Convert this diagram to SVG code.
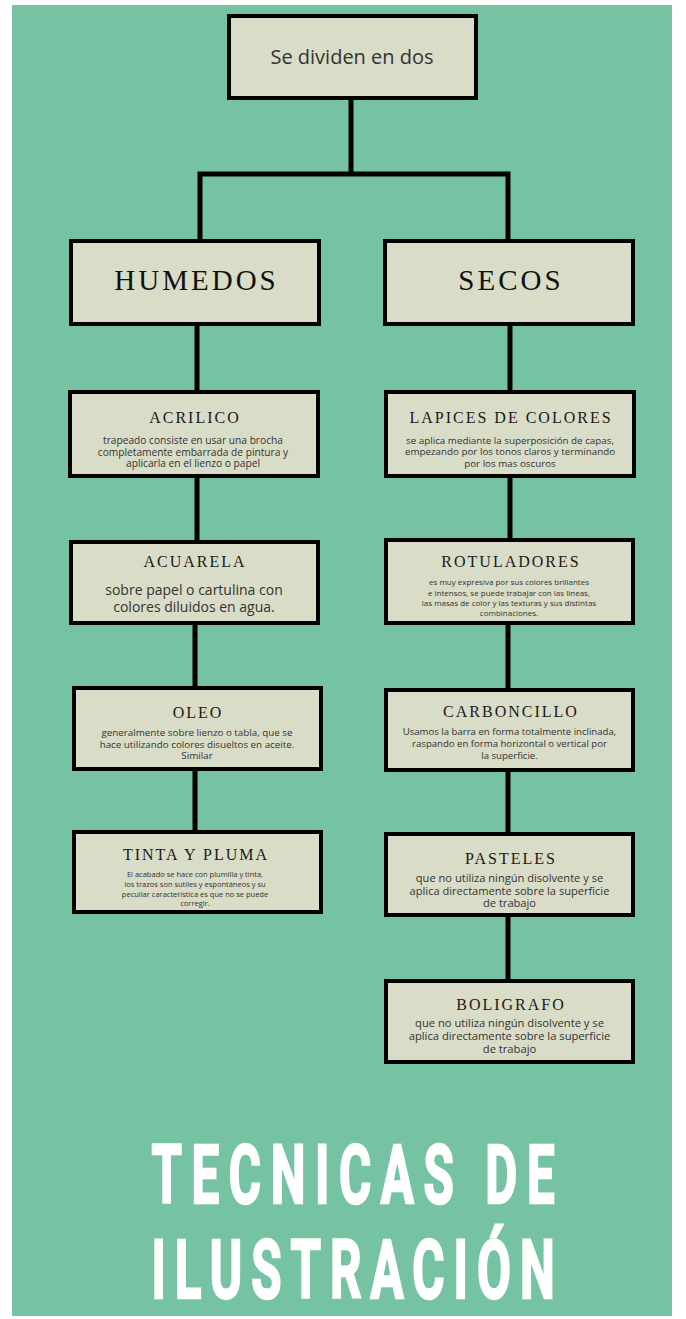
<svg xmlns="http://www.w3.org/2000/svg" width="686" height="1319" viewBox="0 0 686 1319">
<style>
.box{fill:#d9dcc6;stroke:#000;stroke-width:4}
.conn{stroke:#000;stroke-width:5;fill:none;stroke-linecap:butt}
.ttl{font-family:"Liberation Serif","Times New Roman",serif;font-size:16px;letter-spacing:2px;fill:#1a1a1a;text-anchor:middle}
.big{font-family:"Liberation Serif","Times New Roman",serif;font-size:29px;letter-spacing:3px;fill:#111;text-anchor:middle}
.d{font-family:"Open Sans","Liberation Sans",Arial,sans-serif;fill:#333;text-anchor:middle}
.head{font-family:Roboto,"Liberation Sans",Arial,sans-serif;font-weight:700;font-size:82px;fill:#fff;stroke:#fff;stroke-width:2.5;text-anchor:middle}
</style>
<rect x="0" y="0" width="686" height="1319" fill="#fff"/>
<rect x="12" y="5" width="660" height="1311" fill="#75c3a2"/>
<g id="connectors">
<path class="conn" d="M351 98 V174 M200 174 H508 M200 171.5 V240 M508 171.5 V240"/>
<path class="conn" d="M197 324 V392 M197 477 V541 M195 623 V687 M195 769 V831"/>
<path class="conn" d="M510 324 V392 M510 477 V539 M508 623 V689 M508 770 V833 M508 915 V980"/>
</g>
<g id="root">
<rect class="box" x="229" y="16" width="247" height="82"/>
<text x="352" y="64" font-family="Open Sans,Liberation Sans,sans-serif" font-size="20" fill="#333" text-anchor="middle">Se dividen en dos</text>
</g>
<g id="humedos">
<rect class="box" x="71" y="241" width="248" height="83"/>
<text class="big" x="196.5" y="290">HUMEDOS</text>
</g>
<g id="secos">
<rect class="box" x="385" y="241" width="248" height="83"/>
<text class="big" x="511" y="290">SECOS</text>
</g>
<g id="acrilico">
<rect class="box" x="70" y="392" width="248" height="84"/>
<text class="ttl" x="195" y="423">ACRILICO</text>
<text class="d" font-size="10.2"><tspan x="193" y="444">trapeado consiste en usar una brocha</tspan><tspan x="193" y="455.5">completamente embarrada de pintura y</tspan><tspan x="193" y="467">aplicarla en el lienzo o papel</tspan></text>
</g>
<g id="lapices">
<rect class="box" x="386" y="392" width="248" height="84"/>
<text class="ttl" x="511" y="423">LAPICES DE COLORES</text>
<text class="d" font-size="9.8"><tspan x="510" y="443.5">se aplica mediante la superposición de capas,</tspan><tspan x="510" y="455">empezando por los tonos claros y terminando</tspan><tspan x="510" y="466.5">por los mas oscuros</tspan></text>
</g>
<g id="acuarela">
<rect class="box" x="71" y="542" width="247" height="81"/>
<text class="ttl" x="195" y="567">ACUARELA</text>
<text class="d" font-size="14"><tspan x="194" y="595">sobre papel o cartulina con</tspan><tspan x="194" y="611.5">colores diluidos en agua.</tspan></text>
</g>
<g id="rotuladores">
<rect class="box" x="386" y="540" width="247" height="83"/>
<text class="ttl" x="511" y="567">ROTULADORES</text>
<text class="d" font-size="8"><tspan x="509" y="585">es muy expresiva por sus colores brillantes</tspan><tspan x="509" y="595.5">e intensos, se puede trabajar con las lineas,</tspan><tspan x="509" y="605.5">las masas de color y las texturas y sus distintas</tspan><tspan x="509" y="616">combinaciones.</tspan></text>
</g>
<g id="oleo">
<rect class="box" x="74" y="688" width="247" height="81"/>
<text class="ttl" x="198" y="718">OLEO</text>
<text class="d" font-size="9.8"><tspan x="197" y="736">generalmente sobre lienzo o tabla, que se</tspan><tspan x="197" y="747.5">hace utilizando colores disueltos en aceite.</tspan><tspan x="197" y="759">Similar</tspan></text>
</g>
<g id="carboncillo">
<rect class="box" x="386" y="690" width="247" height="80"/>
<text class="ttl" x="511" y="717">CARBONCILLO</text>
<text class="d" font-size="9.6"><tspan x="509.5" y="735">Usamos la barra en forma totalmente inclinada,</tspan><tspan x="509.5" y="747">raspando en forma horizontal o vertical por</tspan><tspan x="509.5" y="758.5">la superficie.</tspan></text>
</g>
<g id="tinta">
<rect class="box" x="74" y="832" width="247" height="80"/>
<text class="ttl" x="196" y="860">TINTA Y PLUMA</text>
<text class="d" font-size="7.5"><tspan x="195" y="877">El acabado se hace con plumilla y tinta,</tspan><tspan x="195" y="887">los trazos son sutiles y espontáneos y su</tspan><tspan x="195" y="896.5">peculiar característica es que no se puede</tspan><tspan x="195" y="906">corregir.</tspan></text>
</g>
<g id="pasteles">
<rect class="box" x="386" y="834" width="247" height="81"/>
<text class="ttl" x="511" y="864">PASTELES</text>
<text class="d" font-size="11.1"><tspan x="509.5" y="881.5">que no utiliza ningún disolvente y se</tspan><tspan x="509.5" y="894.5">aplica directamente sobre la superficie</tspan><tspan x="509.5" y="907">de trabajo</tspan></text>
</g>
<g id="boligrafo">
<rect class="box" x="386" y="981" width="247" height="81"/>
<text class="ttl" x="511" y="1010">BOLIGRAFO</text>
<text class="d" font-size="11.2"><tspan x="509.5" y="1027">que no utiliza ningún disolvente y se</tspan><tspan x="509.5" y="1040">aplica directamente sobre la superficie</tspan><tspan x="509.5" y="1053">de trabajo</tspan></text>
</g>
<g id="title">
<text class="head" transform="translate(353,1203) scale(0.6,1)" x="0" y="0" textLength="672" lengthAdjust="spacing">TECNICAS DE</text>
<text class="head" transform="translate(353,1298) scale(0.6,1)" x="0" y="0" textLength="672" lengthAdjust="spacing">ILUSTRACIÓN</text>
</g>
</svg>
